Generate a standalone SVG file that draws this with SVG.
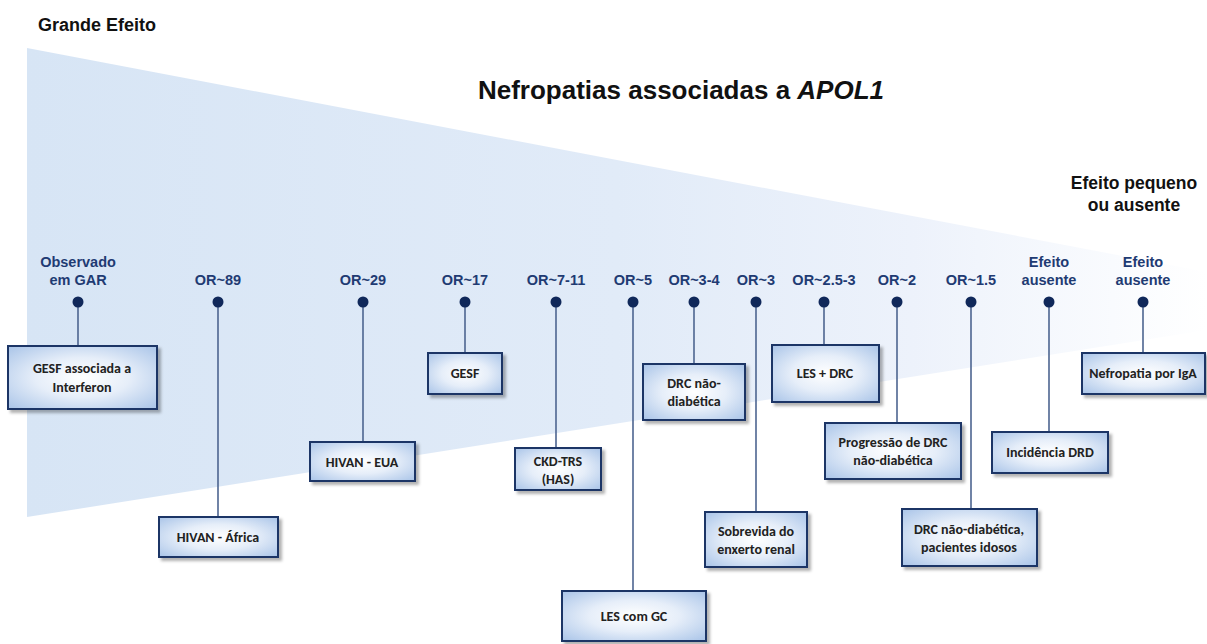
<svg xmlns="http://www.w3.org/2000/svg" width="1207" height="644" viewBox="0 0 1207 644">
<defs>
<linearGradient id="wedge" x1="0" y1="0" x2="1" y2="0">
<stop offset="0" stop-color="#d7e5f5"/>
<stop offset="0.5" stop-color="#e1ebf8"/>
<stop offset="0.75" stop-color="#edf2fb"/>
<stop offset="0.92" stop-color="#f9fbfe"/>
<stop offset="1" stop-color="#ffffff"/>
</linearGradient>
<radialGradient id="boxfill" cx="0.5" cy="0.5" r="0.7">
<stop offset="0" stop-color="#ffffff"/>
<stop offset="0.45" stop-color="#e6eef9"/>
<stop offset="1" stop-color="#a9c4e8"/>
</radialGradient>
<filter id="sh" x="-10%" y="-10%" width="130%" height="140%">
<feDropShadow dx="3" dy="3" stdDeviation="1.5" flood-color="#000" flood-opacity="0.3"/>
</filter>
</defs>
<style>
.box{fill:url(#boxfill);stroke:#1c3466;stroke-width:2;filter:url(#sh)}
.bt{font-family:"Carlito","Liberation Sans",Arial,sans-serif;font-weight:bold;font-size:14px;fill:#222;text-anchor:middle}
.lbl{font-family:"Liberation Sans",Arial,sans-serif;font-weight:bold;font-size:14.5px;fill:#1f3b73;text-anchor:middle}
.dot{fill:#10285a}
.con line{stroke:#4d6590;stroke-width:1.6}
.hd{font-family:"Liberation Sans",Arial,sans-serif;font-weight:bold;fill:#111}
</style>
<rect width="1207" height="644" fill="#fff"/>
<polygon points="27,48 1207,272 1207,330 27,517" fill="url(#wedge)"/>
<text class="hd" x="38" y="31" font-size="18">Grande Efeito</text>
<text class="hd" x="681" y="99" font-size="26" text-anchor="middle">Nefropatias associadas a <tspan font-style="italic">APOL1</tspan></text>
<text class="hd" x="1134" y="189" font-size="17.5" text-anchor="middle">Efeito pequeno</text>
<text class="hd" x="1134" y="211" font-size="17.5" text-anchor="middle">ou ausente</text>

<g id="connectors" class="con">
<line x1="78" y1="302" x2="78" y2="346"/>
<line x1="218" y1="302" x2="218" y2="517"/>
<line x1="363" y1="302" x2="363" y2="442"/>
<line x1="465" y1="302" x2="465" y2="353"/>
<line x1="556" y1="302" x2="556" y2="448"/>
<line x1="633" y1="302" x2="633" y2="591"/>
<line x1="694" y1="302" x2="694" y2="364"/>
<line x1="756" y1="302" x2="756" y2="512"/>
<line x1="824" y1="302" x2="824" y2="345"/>
<line x1="897" y1="302" x2="897" y2="423"/>
<line x1="971" y1="302" x2="971" y2="509"/>
<line x1="1049" y1="302" x2="1049" y2="432"/>
<line x1="1143" y1="302" x2="1143" y2="353"/>
</g>

<g id="n1">
<text class="lbl" x="78" y="267">Observado</text><text class="lbl" x="78" y="285">em GAR</text>
<circle class="dot" cx="78" cy="302" r="5.5"/>
<rect class="box" x="8" y="346" width="149" height="63"/>
<text class="bt" x="82" y="373">GESF associada a</text><text class="bt" x="82" y="392">Interferon</text>
</g>
<g id="n2">
<text class="lbl" x="218" y="285">OR~89</text>
<circle class="dot" cx="218" cy="302" r="5.5"/>
<rect class="box" x="159" y="517" width="119" height="40"/>
<text class="bt" x="218" y="542">HIVAN - África</text>
</g>
<g id="n3">
<text class="lbl" x="363" y="285">OR~29</text>
<circle class="dot" cx="363" cy="302" r="5.5"/>
<rect class="box" x="310" y="442" width="105" height="39"/>
<text class="bt" x="362" y="467">HIVAN - EUA</text>
</g>
<g id="n4">
<text class="lbl" x="465" y="285">OR~17</text>
<circle class="dot" cx="465" cy="302" r="5.5"/>
<rect class="box" x="428" y="353" width="74" height="41"/>
<text class="bt" x="465" y="378">GESF</text>
</g>
<g id="n5">
<text class="lbl" x="556" y="285">OR~7-11</text>
<circle class="dot" cx="556" cy="302" r="5.5"/>
<rect class="box" x="515" y="448" width="86" height="42"/>
<text class="bt" x="558" y="466">CKD-TRS</text><text class="bt" x="558" y="484">(HAS)</text>
</g>
<g id="n6">
<text class="lbl" x="633" y="285">OR~5</text>
<circle class="dot" cx="633" cy="302" r="5.5"/>
<rect class="box" x="562" y="591" width="144" height="50"/>
<text class="bt" x="634" y="621">LES com GC</text>
</g>
<g id="n7">
<text class="lbl" x="694" y="285">OR~3-4</text>
<circle class="dot" cx="694" cy="302" r="5.5"/>
<rect class="box" x="643" y="364" width="102" height="56"/>
<text class="bt" x="694" y="388">DRC não-</text><text class="bt" x="694" y="406">diabética</text>
</g>
<g id="n8">
<text class="lbl" x="756" y="285">OR~3</text>
<circle class="dot" cx="756" cy="302" r="5.5"/>
<rect class="box" x="705" y="512" width="102" height="55"/>
<text class="bt" x="756" y="536">Sobrevida do</text><text class="bt" x="756" y="554">enxerto renal</text>
</g>
<g id="n9">
<text class="lbl" x="824" y="285">OR~2.5-3</text>
<circle class="dot" cx="824" cy="302" r="5.5"/>
<rect class="box" x="772" y="345" width="107" height="57"/>
<text class="bt" x="825" y="378">LES + DRC</text>
</g>
<g id="n10">
<text class="lbl" x="897" y="285">OR~2</text>
<circle class="dot" cx="897" cy="302" r="5.5"/>
<rect class="box" x="825" y="423" width="136" height="56"/>
<text class="bt" x="893" y="447">Progressão de DRC</text><text class="bt" x="893" y="465">não-diabética</text>
</g>
<g id="n11">
<text class="lbl" x="971" y="285">OR~1.5</text>
<circle class="dot" cx="971" cy="302" r="5.5"/>
<rect class="box" x="902" y="509" width="135" height="57"/>
<text class="bt" x="969" y="534">DRC não-diabética,</text><text class="bt" x="969" y="552">pacientes idosos</text>
</g>
<g id="n12">
<text class="lbl" x="1049" y="267">Efeito</text><text class="lbl" x="1049" y="285">ausente</text>
<circle class="dot" cx="1049" cy="302" r="5.5"/>
<rect class="box" x="992" y="432" width="116" height="41"/>
<text class="bt" x="1050" y="457">Incidência DRD</text>
</g>
<g id="n13">
<text class="lbl" x="1143" y="267">Efeito</text><text class="lbl" x="1143" y="285">ausente</text>
<circle class="dot" cx="1143" cy="302" r="5.5"/>
<rect class="box" x="1082" y="353" width="123" height="41"/>
<text class="bt" x="1143" y="378" font-size="13">Nefropatia por IgA</text>
</g>
</svg>
